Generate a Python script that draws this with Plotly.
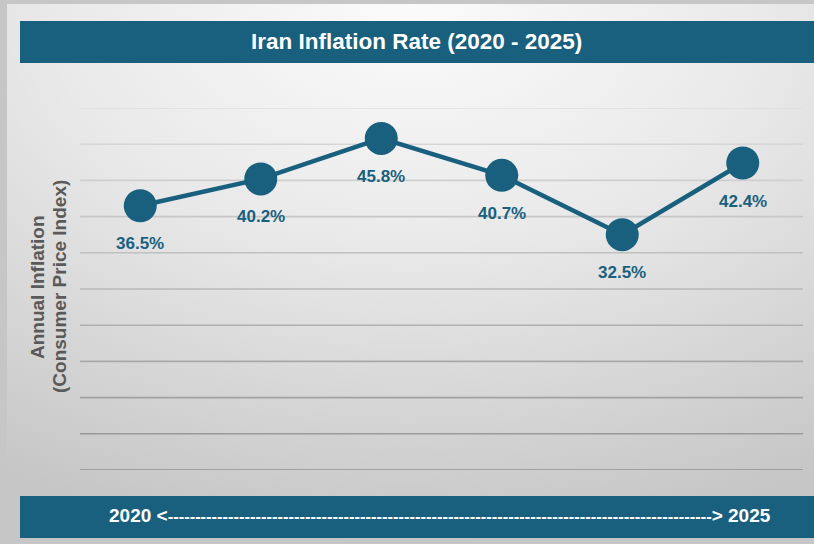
import base64
import plotly.graph_objects as go

# ---------------- data ----------------
years = ["2020", "2021", "2022", "2023", "2024", "2025"]
inflation = [36.5, 40.2, 45.8, 40.7, 32.5, 42.4]
value_labels = ["36.5%", "40.2%", "45.8%", "40.7%", "32.5%", "42.4%"]
grid_values = [0, 5, 10, 15, 20, 25, 30, 35, 40, 45, 50]

title_text = "Iran Inflation Rate (2020 - 2025)"
y_title_lines = ["Annual Inflation", "(Consumer Price Index)"]
caption_start, caption_end = "2020 <", "> 2025"
caption_dashes = "-" * 99

# ---------------- layout geometry ----------------
W, H = 814, 544
L, R, T, B = 80, 11, 108, 74
PW, PH = W - L - R, H - T - B
BLUE = "#19607f"
FONT = "Liberation Sans, Arial, sans-serif"


def px(x):
    return (x - L) / PW


def py(y):
    return (H - B - y) / PH


def mix(c1, c2, t):
    a = [int(c1[i:i + 2], 16) for i in (1, 3, 5)]
    b = [int(c2[i:i + 2], 16) for i in (1, 3, 5)]
    return "#" + "".join(f"{round(a[k] + (b[k] - a[k]) * t):02x}" for k in range(3))


# background card gradient (svg data uri)
svg = (
    '<svg xmlns="http://www.w3.org/2000/svg" width="807" height="537" '
    'viewBox="0 0 807 537" preserveAspectRatio="none"><defs>'
    '<radialGradient id="g" cx="0.5" cy="0.0" r="1.0" fx="0.5" fy="0.0">'
    '<stop offset="0" stop-color="#fbfbfb"/><stop offset="0.45" stop-color="#e9e9e9"/>'
    '<stop offset="1" stop-color="#c6c6c6"/></radialGradient></defs>'
    '<rect width="807" height="537" fill="url(#g)"/></svg>'
)
bg_src = "data:image/svg+xml;base64," + base64.b64encode(svg.encode()).decode()

idx = list(range(len(years)))

fig = go.Figure()
fig.add_trace(
    go.Scatter(
        x=idx,
        y=inflation,
        mode="lines+markers",
        line=dict(color=BLUE, width=4.5),
        marker=dict(size=33, color=BLUE),
        cliponaxis=False,
        hoverinfo="skip",
        showlegend=False,
    )
)

shapes = []
for v in grid_values:
    t = v / grid_values[-1]
    shapes.append(
        dict(
            type="line", xref="paper", yref="y", x0=0, x1=1, y0=v, y1=v,
            line=dict(color=mix("#929292", "#dedede", t), width=1.6), layer="below",
        )
    )
# title bar and bottom bar
shapes.append(dict(type="rect", xref="paper", yref="paper", x0=px(20), x1=px(814),
                   y0=py(63), y1=py(21), fillcolor=BLUE, line=dict(width=0), layer="above"))
shapes.append(dict(type="rect", xref="paper", yref="paper", x0=px(20), x1=px(814),
                   y0=py(538), y1=py(496), fillcolor=BLUE, line=dict(width=0), layer="above"))

annotations = []
for i, v, lab in zip(idx, inflation, value_labels):
    annotations.append(
        dict(x=i, y=v, xref="x", yref="y", text=lab, showarrow=False, yshift=-38,
             xanchor="center", yanchor="middle",
             font=dict(family=FONT, size=17, color=BLUE, weight="bold"))
    )
annotations.append(
    dict(x=px(416), y=py(42), xref="paper", yref="paper", text=title_text, showarrow=False,
         xanchor="center", yanchor="middle",
         font=dict(family=FONT, size=22.5, color="white", weight="bold"))
)
caption = caption_start + '<span style="font-size:16.5px">' + caption_dashes + "</span>" + caption_end
annotations.append(
    dict(x=px(440), y=py(515), xref="paper", yref="paper", text=caption, showarrow=False,
         xanchor="center", yanchor="middle",
         font=dict(family=FONT, size=19, color="white", weight="bold"))
)
for xc, line in zip((37, 59), y_title_lines):
    annotations.append(
        dict(x=px(xc), y=py(287), xref="paper", yref="paper", text=line, showarrow=False,
             textangle=-90, xanchor="center", yanchor="middle",
             font=dict(family=FONT, size=19, color="#595959", weight="bold"))
    )

fig.update_layout(
    width=W,
    height=H,
    margin=dict(l=L, r=R, t=T, b=B),
    paper_bgcolor="#c6c6c6",
    plot_bgcolor="rgba(0,0,0,0)",
    xaxis=dict(range=[-0.5, 5.5], showgrid=False, zeroline=False,
               showticklabels=False, showline=False, fixedrange=True),
    yaxis=dict(range=[0, 50], showgrid=False, zeroline=False, showticklabels=False,
               showline=False, fixedrange=True),
    shapes=shapes,
    annotations=annotations,
    images=[dict(source=bg_src, xref="paper", yref="paper", x=px(7), y=py(4),
                 sizex=(814 - 7) / PW, sizey=(541 - 4) / PH, xanchor="left", yanchor="top",
                 sizing="stretch", layer="below")],
)

fig.write_html("out.html", config={"displayModeBar": False})
